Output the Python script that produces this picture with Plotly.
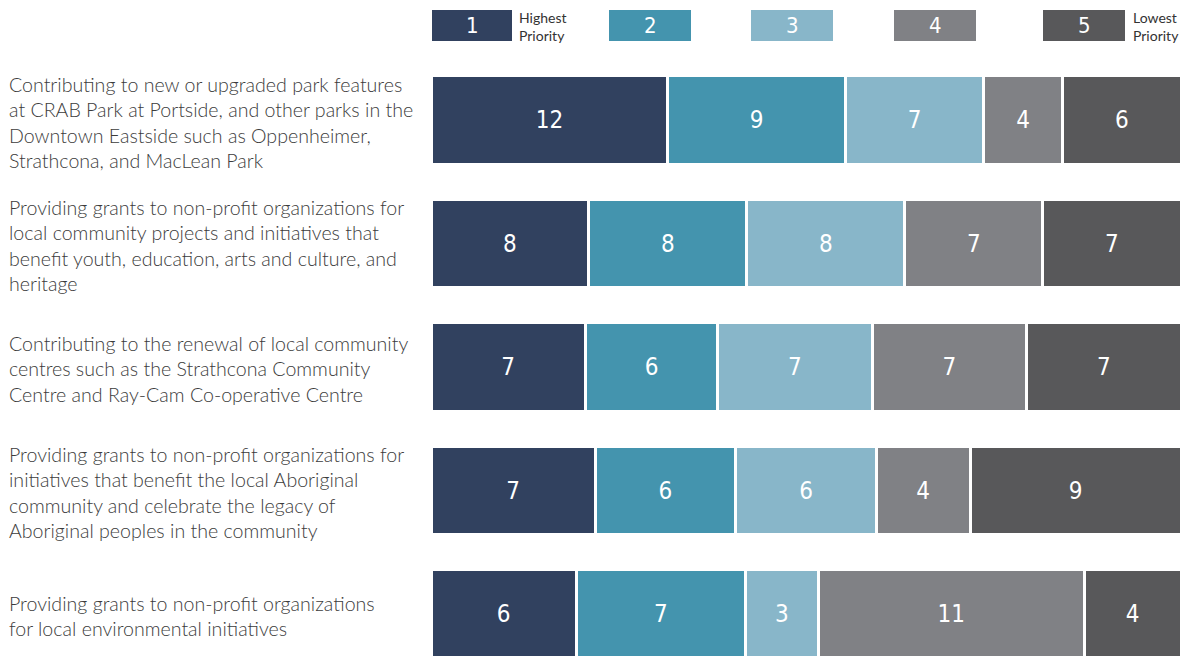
import plotly.graph_objects as go

categories = [
    "Contributing to new or upgraded park features<br>at CRAB Park at Portside, and other parks in the<br>Downtown Eastside such as Oppenheimer,<br>Strathcona, and MacLean Park",
    "Providing grants to non-profit organizations for<br>local community projects and initiatives that<br>benefit youth, education, arts and culture, and<br>heritage",
    "Contributing to the renewal of local community<br>centres such as the Strathcona Community<br>Centre and Ray-Cam Co-operative Centre",
    "Providing grants to non-profit organizations for<br>initiatives that benefit the local Aboriginal<br>community and celebrate the legacy of<br>Aboriginal peoples in the community",
    "Providing grants to non-profit organizations<br>for local environmental initiatives",
]
priority_labels = ["1", "2", "3", "4", "5"]
priority_1 = [12, 8, 7, 7, 6]
priority_2 = [9, 8, 6, 6, 7]
priority_3 = [7, 8, 7, 6, 3]
priority_4 = [4, 7, 7, 4, 11]
priority_5 = [6, 7, 7, 9, 4]
series = [priority_1, priority_2, priority_3, priority_4, priority_5]
colors = ["#31415f", "#4494ae", "#88b6c9", "#808185", "#58585a"]

OFF = 8  # page body margin
W, H = 1196 - OFF, 656 - OFF
ML, MR = 431 - OFF, 15
MT, MB = 58 - OFF, 0
num_font = "Liberation Sans Narrow, DejaVu Sans Condensed, Arial Narrow, sans-serif"
lab_font = "Lato, Open Sans, sans-serif"

pw = W - ML - MR
ph = H - MT - MB

def px2x(px):
    return (px - OFF - ML) / pw

def py2y(py):
    return (H - MB - (py - OFF)) / ph

fig = go.Figure()
for lab, vals, col in zip(priority_labels, series, colors):
    fig.add_trace(go.Bar(
        y=categories, x=vals, orientation="h", name=lab,
        marker=dict(color=col, line=dict(color="white", width=3)),
        text=[str(v) for v in vals], textposition="inside",
        insidetextanchor="middle", constraintext="none",
        textfont=dict(color="white", size=24, family=num_font),
        hoverinfo="x+y",
    ))

annotations = []
for c in categories:
    annotations.append(dict(
        x=px2x(7), xref="paper", xanchor="left", y=c, yref="y", yanchor="middle",
        yshift=-2,
        text=c, showarrow=False, align="left",
        font=dict(size=19.6, color="#3c3c3c", family=lab_font, weight=300),
    ))

box_x = [(432, 512), (609, 691), (751, 833), (894, 976), (1043, 1125)]
shapes = []
for (x0, x1), col, lab in zip(box_x, colors, priority_labels):
    shapes.append(dict(type="rect", xref="paper", yref="paper",
                       x0=px2x(x0), x1=px2x(x1), y0=py2y(41), y1=py2y(10),
                       fillcolor=col, line=dict(width=0), layer="above"))
    annotations.append(dict(x=px2x((x0 + x1) / 2), y=py2y(25.5), xref="paper", yref="paper",
                            text=lab, showarrow=False, xanchor="center", yanchor="middle",
                            font=dict(size=22, color="white", family=num_font, weight=300)))
annotations.append(dict(x=px2x(517), y=py2y(26), xref="paper", yref="paper",
                        text="Highest<br>Priority", showarrow=False, xanchor="left",
                        yanchor="middle", align="left",
                        font=dict(size=14, color="#333333", family=lab_font)))
annotations.append(dict(x=px2x(1131), y=py2y(26), xref="paper", yref="paper",
                        text="Lowest<br>Priority", showarrow=False, xanchor="left",
                        yanchor="middle", align="left",
                        font=dict(size=14, color="#333333", family=lab_font)))

fig.update_layout(
    width=W, height=H,
    margin=dict(l=ML, r=MR, t=MT, b=MB),
    barmode="stack", barnorm="percent", bargap=0.28,
    showlegend=False,
    plot_bgcolor="white", paper_bgcolor="white",
    xaxis=dict(visible=False, range=[0, 100]),
    yaxis=dict(showticklabels=False, showgrid=False, zeroline=False,
               range=[4.34, -0.502]),
    annotations=annotations, shapes=shapes,
    uniformtext=dict(minsize=10, mode="show"),
)

fig.write_html("out.html")
